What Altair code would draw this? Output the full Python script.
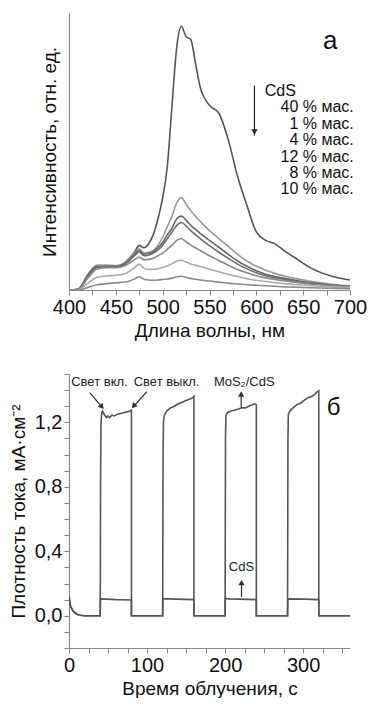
import altair as alt
import pandas as pd

# ---------- panel a: photoluminescence spectra ----------
wl = [400, 410, 420, 430, 440, 450, 460, 470, 475, 480, 485, 490, 495, 500, 505, 510, 515,
      520, 525, 530, 535, 540, 550, 560, 570, 580, 590, 600, 610, 620, 630, 640, 660, 680, 700]
series_names = ["CdS", "40 % мас.", "1 % мас.", "4 % мас.", "12 % мас.", "8 % мас.", "10 % мас."]
s_cds = [0, 0, 5.6, 8.8, 8.8, 8.8, 10.6, 14.4, 16.9, 16.0, 17.5, 21, 27, 35, 47, 70, 92,
         100, 96, 95, 86, 77, 70, 67, 57, 43, 32, 22, 18.8, 17.5, 14.8, 12.5, 8, 5.3, 3.8]
s_40 = [0, 0.5, 6, 9.5, 9.5, 9.2, 10.5, 14, 15.5, 14, 14.3, 15, 17, 20, 24, 28, 33,
        35, 32.5, 30, 28, 26, 22.5, 19.5, 16.5, 13.5, 11, 9, 7.5, 6.3, 5.3, 4.5, 3.2, 2.2, 1.6]
s_1 = [0, 0.3, 5.5, 9, 9, 9, 10, 13.5, 15, 13.5, 13.8, 14.5, 16, 18, 21, 23.5, 27,
       28, 26.5, 24.5, 23, 21.5, 18.8, 16.2, 13.5, 11, 9, 7.3, 6, 5.1, 4.4, 3.8, 2.7, 1.9, 1.4]
s_4 = [0, 0.3, 5, 8.5, 8.7, 8.7, 9.8, 13, 14.5, 13, 13.2, 14, 15.2, 17, 19.5, 22, 24.5,
       25.6, 24.3, 22.5, 21, 19.5, 16.8, 14.3, 12, 9.8, 8, 6.5, 5.4, 4.6, 4, 3.4, 2.5, 1.8, 1.3]
s_12 = [0, 0.2, 4.5, 8, 8.5, 8.5, 9.3, 11.5, 12.5, 11.5, 11.6, 12, 13, 14, 15.5, 17, 18.8,
        19.4, 18.3, 17, 16, 15, 13, 11.2, 9.4, 7.8, 6.5, 5.4, 4.6, 4, 3.5, 3, 2.2, 1.6, 1.2]
s_8 = [0, 0.2, 2.5, 4.8, 5.3, 5.6, 6.2, 8.5, 9.8, 8.2, 7.8, 7.8, 8.1, 8.5, 9.2, 10, 11,
       11.25, 10.6, 9.9, 9.4, 8.9, 7.9, 6.9, 5.9, 5.1, 4.3, 3.7, 3.2, 2.8, 2.4, 2.1, 1.6, 1.2, 0.9]
s_10 = [0, 0, 1, 2, 2.4, 2.7, 3, 4.2, 5, 4.1, 3.8, 3.7, 3.8, 4, 4.2, 4.5, 5,
        5.2, 4.8, 4.4, 4.1, 3.8, 3.4, 3, 2.6, 2.3, 2, 1.8, 1.6, 1.4, 1.2, 1.1, 0.85, 0.65, 0.5]
series_vals = [s_cds, s_40, s_1, s_4, s_12, s_8, s_10]
series_colors = ["#555555", "#9a9a9a", "#666666", "#6e6e6e", "#888888", "#ababab", "#8a8a8a"]

legend_lines = ["40 % мас.", "1 % мас.", "4 % мас.", "12 % мас.", "8 % мас.", "10 % мас."]

# ---------- panel б: photocurrent ----------
t_mos = [0, 2, 5, 10, 15, 20, 40,
         40, 40.5, 41, 42, 43, 45, 48, 50, 52, 55, 58, 62, 66, 70, 74, 78, 80, 80,
         120, 120.5, 121, 122, 125, 130, 135, 140, 145, 150, 155, 159, 160, 160,
         200, 200.5, 201, 203, 207, 212, 218, 222, 226, 230, 235, 238, 240, 240,
         280, 280.5, 281, 283, 287, 292, 297, 302, 307, 311, 315, 318, 320, 320, 360]
j_mos = [0.12, 0.06, 0.03, 0.01, 0.003, 0, 0,
         0, 0.9, 1.2, 1.26, 1.27, 1.25, 1.23, 1.24, 1.23, 1.245, 1.24, 1.25, 1.255, 1.26, 1.265, 1.27, 1.275, 0,
         0, 1.0, 1.2, 1.24, 1.27, 1.29, 1.30, 1.315, 1.325, 1.335, 1.345, 1.355, 1.36, 0,
         0, 1.1, 1.24, 1.26, 1.27, 1.275, 1.285, 1.29, 1.29, 1.30, 1.31, 1.315, 1.31, 0,
         0, 1.1, 1.25, 1.27, 1.29, 1.31, 1.32, 1.34, 1.355, 1.36, 1.375, 1.39, 1.395, 0, 0]
t_cds = [0, 2, 5, 10, 15, 20, 40, 40.3, 42, 60, 80, 80,
         120, 120.3, 125, 160, 160, 200, 200.3, 205, 240, 240,
         280, 280.3, 300, 320, 320, 360]
j_cds = [0.12, 0.06, 0.03, 0.01, 0.003, 0, 0, 0.1, 0.105, 0.1, 0.098, 0,
         0, 0.105, 0.105, 0.1, 0, 0, 0.108, 0.105, 0.1, 0,
         0, 0.105, 0.103, 0.1, 0, 0]

y_tick_values = [-0.2, -0.1, 0.0, 0.1, 0.2, 0.3, 0.4, 0.5, 0.6, 0.7, 0.8, 0.9, 1.0, 1.1, 1.2, 1.3, 1.4, 1.5]
y_label_values = [0.0, 0.4, 0.8, 1.2]
y_label_texts = ["0,0", "0,4", "0,8", "1,2"]

FONT = "Liberation Sans"

# ----- build tables -----
rows = []
for name, vals in zip(series_names, series_vals):
    for i, (w, v) in enumerate(zip(wl, vals)):
        rows.append({"nm": w, "I": v, "s": name, "o": i})
df_pl = pd.DataFrame(rows)

xa = alt.X("nm:Q", scale=alt.Scale(domain=[400, 700], nice=False),
           axis=alt.Axis(values=list(range(400, 701, 25)),
                         labelExpr="datum.value % 50 == 0 ? datum.label : ''",
                         title="Длина волны, нм", labelFlush=False, labelOverlap=False))
ya = alt.Y("I:Q", scale=alt.Scale(domain=[0, 105], nice=False),
           axis=alt.Axis(ticks=False, labels=False, title="Интенсивность, отн. ед.", titlePadding=10))

pl_lines = alt.Chart(df_pl).mark_line(strokeWidth=1.6, interpolate="monotone", clip=True).encode(
    x=xa, y=ya,
    color=alt.Color("s:N", scale=alt.Scale(domain=series_names, range=series_colors), legend=None),
    order="o:Q")

leg_df = pd.DataFrame({"txt": legend_lines, "nm": [704] * 6,
                       "I": [69.4, 63.1, 56.9, 50.6, 44.4, 38.1]})
leg_text = alt.Chart(leg_df).mark_text(align="right", baseline="middle", fontSize=16, font=FONT,
                                       color="#111").encode(x=xa, y=ya, text="txt:N")
cds_df = pd.DataFrame({"txt": ["CdS"], "nm": [609], "I": [75.6]})
cds_text = alt.Chart(cds_df).mark_text(align="left", baseline="middle", fontSize=16, font=FONT,
                                       color="#111").encode(x=xa, y=ya, text="txt:N")
arr_df = pd.DataFrame({"nm": [598], "I": [77.5], "I2": [58.5]})
arr_rule = alt.Chart(arr_df).mark_rule(color="#222", strokeWidth=1.2).encode(
    x=xa, y=ya, y2="I2:Q")
arr_head = alt.Chart(pd.DataFrame({"nm": [598], "I": [60.2], "a": [180]})).mark_point(
    shape="triangle", filled=True, size=40, color="#222", opacity=1).encode(
    x=xa, y=ya, angle=alt.Angle("a:Q", scale=None))
lab_a = alt.Chart(pd.DataFrame({"nm": [679], "I": [94.5], "txt": ["а"]})).mark_text(
    fontSize=26, font=FONT, color="#111", baseline="middle").encode(x=xa, y=ya, text="txt:N")

top = alt.layer(pl_lines, leg_text, cds_text, arr_rule, arr_head, lab_a).properties(width=281, height=277)

# ----- panel б -----
df_pc = pd.concat([
    pd.DataFrame({"t": t_mos, "j": j_mos, "s": "MoS2/CdS", "o": range(len(t_mos))}),
    pd.DataFrame({"t": t_cds, "j": j_cds, "s": "CdS", "o": range(len(t_cds))}),
])
y_label_expr = " : ".join(
    f"abs(datum.value - ({v})) < 0.001 ? '{s}'" for v, s in zip(y_label_values, y_label_texts)) + " : ''"

xb = alt.X("t:Q", scale=alt.Scale(domain=[0, 360], nice=False),
           axis=alt.Axis(values=list(range(0, 351, 25)),
                         labelExpr="datum.value % 100 == 0 ? datum.label : ''",
                         title="Время облучения, с", labelFlush=False, labelOverlap=False))
yb = alt.Y("j:Q", scale=alt.Scale(domain=[-0.2, 1.5], nice=False, zero=False),
           axis=alt.Axis(values=y_tick_values, labelExpr=y_label_expr,
                         title="Плотность тока, мА·см⁻²", titlePadding=6, labelOverlap=False,
                         labelFlush=False))
pc_lines = alt.Chart(df_pc).mark_line(strokeWidth=1.6, clip=True).encode(
    x=xb, y=yb,
    color=alt.Color("s:N", scale=alt.Scale(domain=["MoS2/CdS", "CdS"], range=["#6f6f6f", "#555555"]),
                    legend=None),
    order="o:Q")

ann_df = pd.DataFrame({"txt": ["Свет вкл.", "Свет выкл.", "MoS₂/CdS", "CdS"],
                       "t": [39, 125, 224.5, 221], "j": [1.45, 1.45, 1.45, 0.30]})
ann_text = alt.Chart(ann_df).mark_text(fontSize=13, font=FONT, color="#222", baseline="middle").encode(
    x=xb, y=yb, text="txt:N")
rules_df = pd.DataFrame({"t": [26.7, 99.7, 220.6, 221], "j": [1.385, 1.39, 1.29, 0.116],
                         "t2": [43, 82, 220.6, 221], "j2": [1.29, 1.295, 1.375, 0.205]})
ann_rules = alt.Chart(rules_df).mark_rule(color="#333", strokeWidth=1.2).encode(
    x=xb, y=yb, x2="t2:Q", y2="j2:Q")
heads_df = pd.DataFrame({"t": [41.5, 83.5, 220.6, 221], "j": [1.30, 1.305, 1.37, 0.2],
                         "a": [141, 219, 0, 0]})
ann_heads = alt.Chart(heads_df).mark_point(shape="triangle", filled=True, size=40, color="#333",
                                           opacity=1).encode(
    x=xb, y=yb, angle=alt.Angle("a:Q", scale=None))
lab_b = alt.Chart(pd.DataFrame({"t": [339], "j": [1.29], "txt": ["б"]})).mark_text(
    fontSize=24, font=FONT, color="#111", baseline="middle").encode(x=xb, y=yb, text="txt:N")

bottom = alt.layer(pc_lines, ann_text, ann_rules, ann_heads, lab_b).properties(width=281, height=274)

chart = alt.vconcat(top, bottom, spacing=24).properties(
    padding={"left": 1, "top": 5, "right": 0, "bottom": 0}
).configure(font=FONT).configure_view(strokeWidth=0).configure_axis(
    grid=False, domainColor="#888888", tickColor="#888888", tickSize=5,
    labelFont=FONT, titleFont=FONT, labelFontSize=20, titleFontSize=19,
    labelColor="#111111", titleColor="#111111", titleFontWeight="normal",
    labelPadding=2, titlePadding=4, domainWidth=1.2
)

chart.save("out.html", embed_options={"renderer": "svg", "actions": False})
